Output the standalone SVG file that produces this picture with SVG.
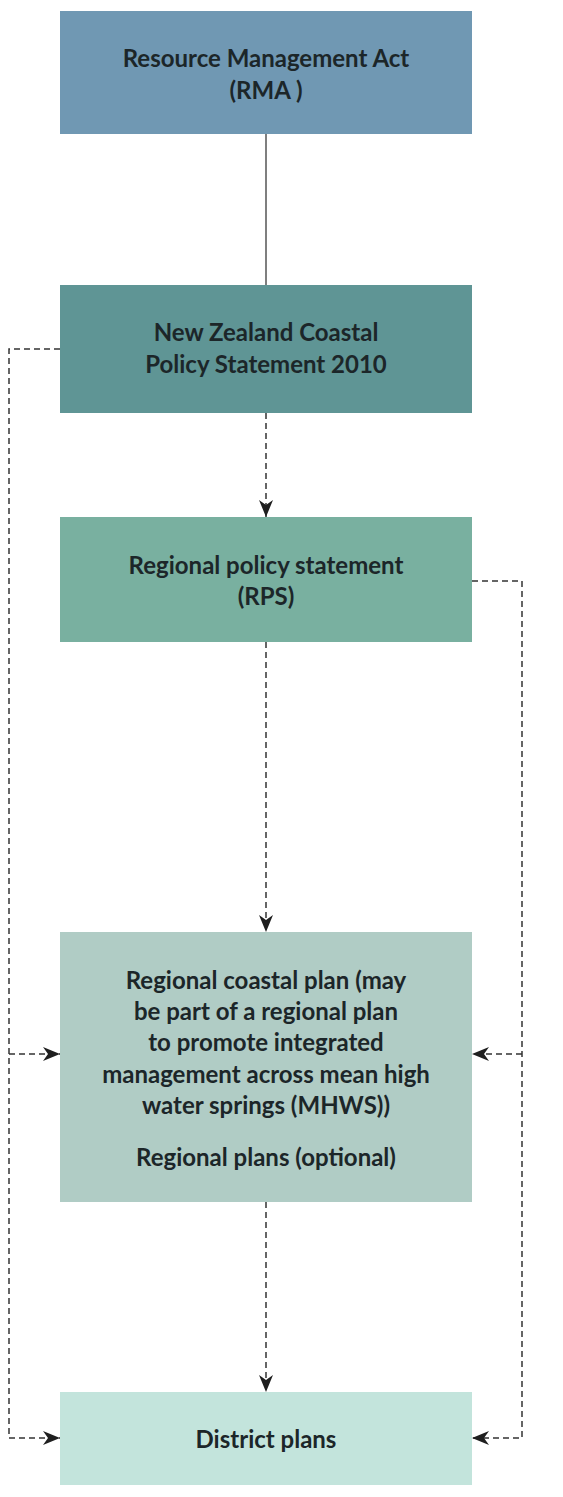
<svg xmlns="http://www.w3.org/2000/svg" width="563" height="1497" viewBox="0 0 563 1497">
<style>
.box{stroke:none}
.t{font-family:Lato,"Open Sans","Liberation Sans",sans-serif;font-weight:700;font-size:24px;fill:#1c2629;text-anchor:middle}
.solid{stroke:#555;stroke-width:1.5;fill:none}
.dash{stroke:#333;stroke-width:1.5;fill:none;stroke-dasharray:6 4}
</style>
<defs>
<marker id="ah" viewBox="0 0 17 14" refX="17" refY="7" markerWidth="17" markerHeight="14" markerUnits="userSpaceOnUse" orient="auto">
<path d="M0,0 L17,7 L0,14 L5,7 z" fill="#1f1f1f"/>
</marker>
</defs>
<rect width="563" height="1497" fill="#ffffff"/>
<g id="connectors">
<line class="solid" x1="266" y1="134" x2="266" y2="285"/>
<line class="dash" x1="266" y1="413" x2="266" y2="517" marker-end="url(#ah)"/>
<line class="dash" x1="266" y1="642" x2="266" y2="932" marker-end="url(#ah)"/>
<line class="dash" x1="266" y1="1202" x2="266" y2="1392" marker-end="url(#ah)"/>
<polyline class="dash" points="60,349 9,349 9,1438 60,1438" marker-end="url(#ah)"/>
<line class="dash" x1="9" y1="1054" x2="60" y2="1054" marker-end="url(#ah)"/>
<polyline class="dash" points="472,581 522,581 522,1438 472,1438" marker-end="url(#ah)"/>
<line class="dash" x1="522" y1="1054" x2="472" y2="1054" marker-end="url(#ah)"/>
</g>
<g id="rma">
<rect class="box" x="60" y="11" width="412" height="123" fill="#7098b3"/>
<text class="t" x="266" y="67">Resource Management Act</text>
<text class="t" x="266" y="99">(RMA )</text>
</g>
<g id="nzcps">
<rect class="box" x="60" y="285" width="412" height="128" fill="#5f9595"/>
<text class="t" x="266" y="341">New Zealand Coastal</text>
<text class="t" x="266" y="373">Policy Statement 2010</text>
</g>
<g id="rps">
<rect class="box" x="60" y="517" width="412" height="125" fill="#79b0a0"/>
<text class="t" x="266" y="574">Regional policy statement</text>
<text class="t" x="266" y="605">(RPS)</text>
</g>
<g id="rcp">
<rect class="box" x="60" y="932" width="412" height="270" fill="#b0ccc5"/>
<text class="t" x="266" y="989">Regional coastal plan (may</text>
<text class="t" x="266" y="1020">be part of a regional plan</text>
<text class="t" x="266" y="1051">to promote integrated</text>
<text class="t" x="266" y="1083">management across mean high</text>
<text class="t" x="266" y="1114">water springs (MHWS))</text>
<text class="t" x="266" y="1166">Regional plans (optional)</text>
</g>
<g id="district">
<rect class="box" x="60" y="1392" width="412" height="93" fill="#c3e4dc"/>
<text class="t" x="266" y="1448">District plans</text>
</g>
</svg>
